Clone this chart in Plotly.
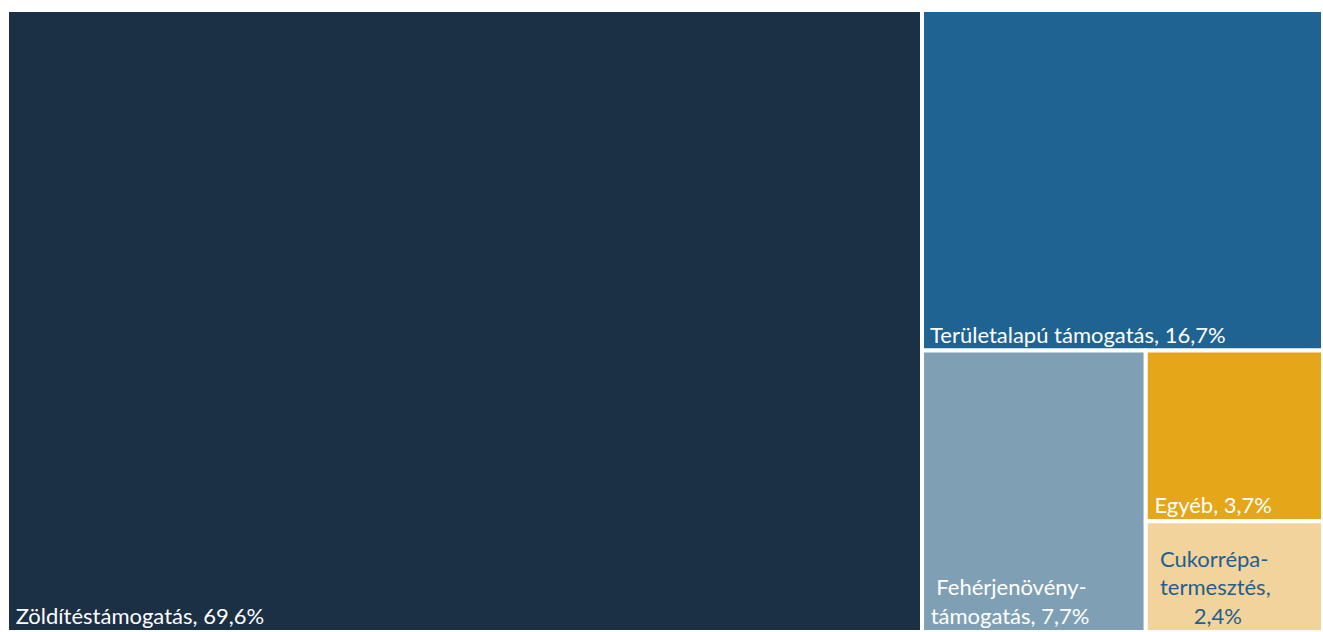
import plotly.graph_objects as go

labels = ["Zöldítéstámogatás", "Területalapú támogatás", "Fehérjenövény-", "Egyéb", "Cukorrépa-"]
label_tails = ["", "", "támogatás", "", "termesztés,"]
shares = [69.6, 16.7, 7.7, 3.7, 2.4]
colors = ["#1b2f45", "#1f6393", "#7fa0b4", "#e5a61a", "#f2d39c"]
text_colors = ["#ffffff", "#ffffff", "#ffffff", "#ffffff", "#1f5f8f"]

templates = [
    " %{label}, %{value:.1f}%",
    " %{label}, %{value:.1f}%",
    "  %{label}<br> %{text}, %{value:.1f}%",
    " %{label}, %{value:.1f}%",
    "  %{label}<br>  %{text}<br>        %{value:.1f}%",
]

fig = go.Figure(go.Treemap(
    labels=labels,
    parents=[""] * len(labels),
    values=shares,
    text=label_tails,
    sort=True,
    tiling=dict(packing="squarify", pad=0),
    marker=dict(colors=colors, line=dict(color="white", width=4),
                pad=dict(t=0, l=0, r=0, b=0)),
    pathbar=dict(visible=False),
    texttemplate=templates,
    textposition="bottom left",
    textfont=dict(family="Lato, sans-serif", size=22, color=text_colors),
    hoverinfo="skip",
))
fig.update_layout(
    width=1323, height=632,
    margin=dict(l=7, r=0, t=10, b=0),
    paper_bgcolor="white",
    separators=", ",
    showlegend=False,
)
fig.write_html(
    "out.html",
    config={"displayModeBar": False},
    post_script="document.body.style.margin='0';document.body.style.overflow='hidden';",
)
